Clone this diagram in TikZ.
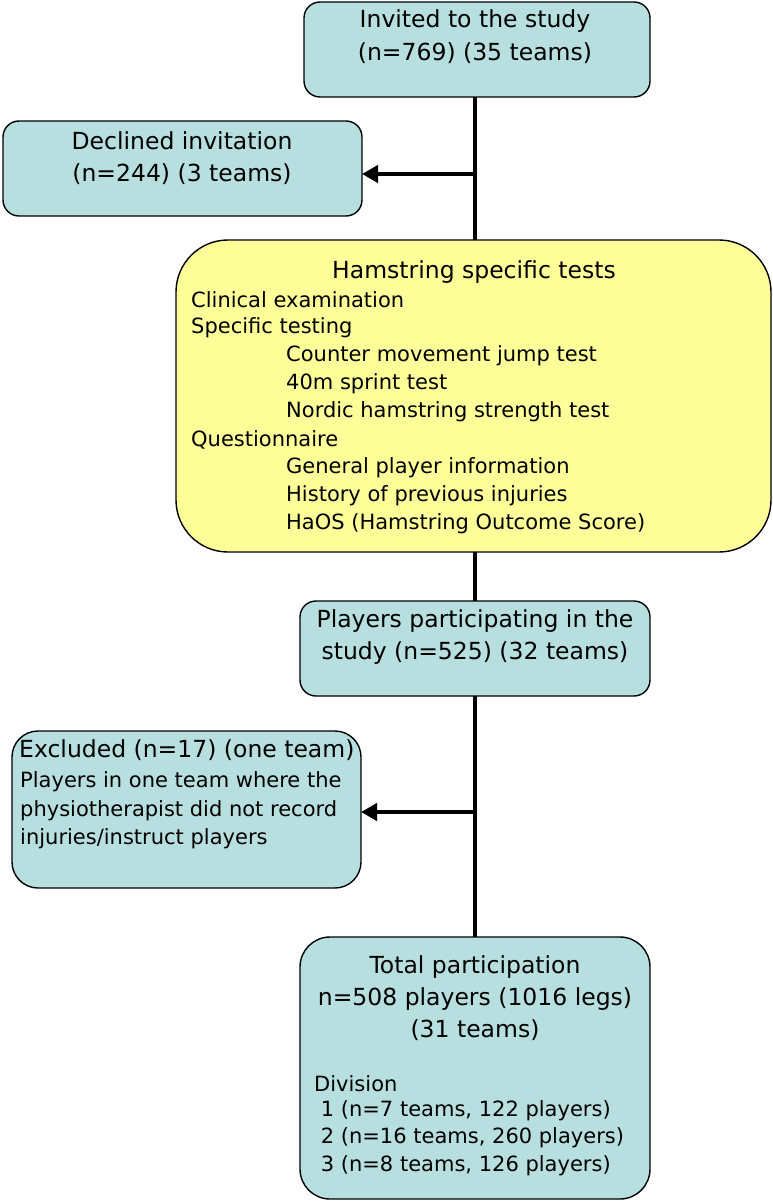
\documentclass[tikz,border=0pt]{standalone}
\usepackage{fontspec}
\setmainfont{DejaVu Sans}
\usetikzlibrary{arrows.meta}
\definecolor{boxblue}{RGB}{184,223,224}
\definecolor{boxyellow}{RGB}{255,255,153}
\tikzset{
  box/.style={draw=black, line width=1.4pt, fill=boxblue, rounded corners=#1},
  box/.default=16pt,
  ttl/.style={font=\fontsize{23.5}{28}\selectfont, inner sep=0pt},
  txt/.style={font=\fontsize{21}{25}\selectfont, inner sep=0pt, anchor=west},
  flow/.style={line width=4pt},
  arr/.style={line width=4pt, -{Triangle[length=16pt,width=17pt]}}
}
\begin{document}
\begin{tikzpicture}[x=1pt,y=-1pt]
\useasboundingbox (0,0) rectangle (772,1201);
% boxes
\draw[box] (304,2) rectangle (650,97) node[pos=0.5] (inv) {};
\draw[box] (3,121) rectangle (362,216) node[pos=0.5] (dec) {};
\draw[box=52pt, fill=boxyellow] (176,240) rectangle (771,552) node[pos=0.5] (ham) {};
\draw[box] (300,601) rectangle (650,696) node[pos=0.5] (par) {};
\draw[box=26pt] (12,731) rectangle (361,888) node[pos=0.5] (exc) {};
\draw[box=30pt] (300,937) rectangle (650,1199) node[pos=0.5] (tot) {};
% anchors for connectors
\coordinate (invB) at (475,97);
\coordinate (hamT) at (475,240);
\coordinate (hamB) at (475,552);
\coordinate (parT) at (475,601);
\coordinate (parB) at (475,696);
\coordinate (totT) at (475,937);
\coordinate (j1) at (475,174);
\coordinate (decR) at (362,174);
\coordinate (j2) at (475,812);
\coordinate (excR) at (361,812);
\draw[flow] (invB) -- (hamT);
\draw[flow] (hamB) -- (parT);
\draw[flow] (parB) -- (totT);
\draw[arr] (j1) -- (decR);
\draw[arr] (j2) -- (excR);
% texts
\node[ttl] (inv1) at (475,21) {Invited to the study};
\node[ttl] (inv2) at (475,53) {(n=769) (35 teams)};
\node[ttl] (dec1) at (182,141) {Declined invitation};
\node[ttl] (dec2) at (182,174) {(n=244) (3 teams)};
\node[ttl] (ham0) at (474,272) {Hamstring specific tests};
\node[txt] (ham1) at (191,300) {Clinical examination};
\node[txt] (ham2) at (191,328) {Specific testing};
\node[txt] (ham3) at (286,356) {Counter movement jump test};
\node[txt] (ham4) at (286,384) {40m sprint test};
\node[txt] (ham5) at (286,412) {Nordic hamstring strength test};
\node[txt] (ham6) at (191,440) {Questionnaire};
\node[txt] (ham7) at (286,468) {General player information};
\node[txt] (ham8) at (286,496) {History of previous injuries};
\node[txt] (ham9) at (286,524) {HaOS (Hamstring Outcome Score)};
\node[ttl] (par1) at (475,621) {Players participating in the};
\node[ttl] (par2) at (475,653) {study (n=525) (32 teams)};
\node[ttl, anchor=west] (exc1) at (19,750) {Excluded (n=17) (one team)};
\node[txt] (exc2) at (20,782) {Players in one team where the};
\node[txt] (exc3) at (20,811) {physiotherapist did not record};
\node[txt] (exc4) at (20,839) {injuries/instruct players};
\node[ttl] (tot1) at (475,967) {Total participation};
\node[ttl] (tot2) at (475,999) {n=508 players (1016 legs)};
\node[ttl] (tot3) at (475,1030) {(31 teams)};
\node[txt] (tot4) at (314,1084) {Division};
\node[txt] (tot5) at (314,1111) {\ 1 (n=7 teams, 122 players)};
\node[txt] (tot6) at (314,1138) {\ 2 (n=16 teams, 260 players)};
\node[txt] (tot7) at (314,1166) {\ 3 (n=8 teams, 126 players)};
\end{tikzpicture}
\end{document}
